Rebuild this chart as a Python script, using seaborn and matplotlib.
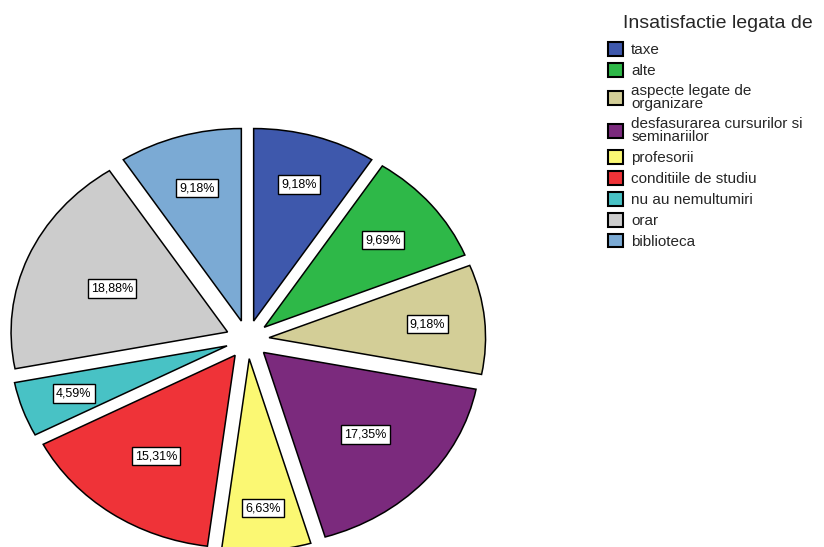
import matplotlib
matplotlib.use('Agg')
import numpy as np
import matplotlib.pyplot as plt
import seaborn as sns

# date: numar de raspunsuri pe categorie (N = 196)
categorii = ['taxe', 'alte', 'aspecte legate de\norganizare',
             'desfasurarea cursurilor si\nseminariilor', 'profesorii',
             'conditiile de studiu', 'nu au nemultumiri', 'orar', 'biblioteca']
frecvente = [18, 19, 18, 34, 13, 30, 9, 37, 18]
culori = ['#3E58AC', '#2EB848', '#D3CE97', '#7B2A7D', '#FBF873',
          '#EF3338', '#48C2C5', '#CCCCCC', '#7BAAD4']
titlu_legenda = 'Insatisfactie legata de'

# distanta radiala a fiecarei etichete (ca in SPSS, nu e constanta)
dist_etichete = [0.74, 0.71, 0.735, 0.635, 0.78, 0.64, 0.75, 0.58, 0.72]

sns.set_theme(style='white')
plt.rcParams['font.family'] = ['Liberation Sans', 'DejaVu Sans']

fig = plt.figure(figsize=(8.24, 5.47), dpi=100)
ax = fig.add_axes([0, 0, 1, 1])

wedges, texts, autotexts = ax.pie(
    frecvente, colors=culori, startangle=90, counterclock=False,
    explode=[0.1] * len(frecvente), pctdistance=0.67,
    autopct=lambda p: f'{p:.2f}%'.replace('.', ','),
    wedgeprops=dict(edgecolor='black', linewidth=1.1),
    textprops=dict(fontsize=9, color='black'))

for w, t, r in zip(wedges, autotexts, dist_etichete):
    mid = np.deg2rad((w.theta1 + w.theta2) / 2)
    cx, cy = w.center
    t.set_position((cx + r * np.cos(mid), cy + r * np.sin(mid)))
    t.set_bbox(dict(boxstyle='square,pad=0.25', fc='white', ec='black', lw=1))

# pie-ul din original e usor turtit (mai lat decat inalt)
ax.set_aspect('auto')
ax.set_xlim(-247.5 / 216.5, (824 - 247.5) / 216.5)
ax.set_ylim(-(547 - 339.5) / 192.5, 339.5 / 192.5)
ax.axis('off')

fig.text(623 / 824, 1 - 23 / 547, titlu_legenda, fontsize=14,
         ha='left', va='center')
leg = ax.legend(wedges, categorii, loc='upper left',
                bbox_to_anchor=(608 / 824, 1 - 42 / 547), bbox_transform=fig.transFigure,
                frameon=False, fontsize=11, borderpad=0,
                handlelength=1.0, handleheight=1.0, handletextpad=0.52,
                labelspacing=0.38, borderaxespad=0)
for h in leg.legend_handles:
    h.set_linewidth(1.5)
for t in leg.get_texts():
    t.set_linespacing(0.95)

fig.savefig('out.png', dpi=100)
